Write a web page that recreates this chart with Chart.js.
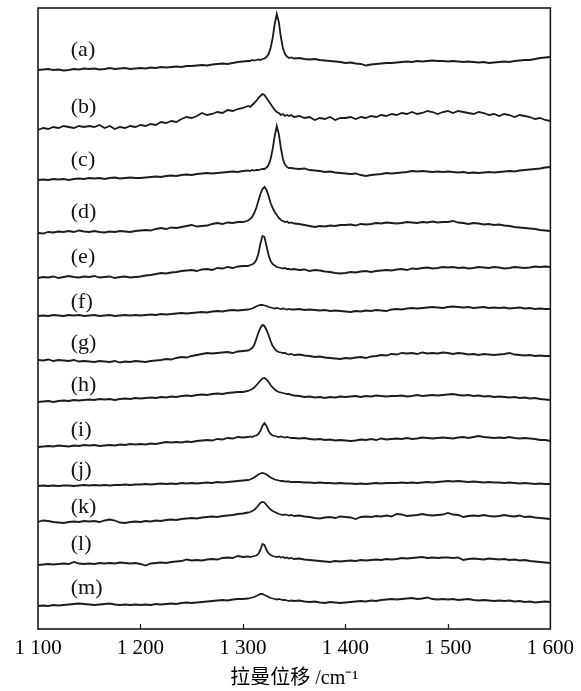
<!DOCTYPE html>
<html><head><meta charset="utf-8">
<style>html,body{margin:0;padding:0;background:#fff}#wrap{width:581px;height:691px}</style>
<script src="https://cdn.jsdelivr.net/npm/chart.js@4"></script>
</head><body><div id="wrap"><canvas id="c" width="581" height="691"></canvas></div>
<script>
// Raman shift grid (cm^-1)
const shifts = [
1100,1105,1110,1115,1120,1125,1130,1135,1140,1145,
1150,1155,1160,1165,1170,1175,1180,1185,1190,1195,
1200,1205,1210,1215,1220,1225,1230,1235,1240,1245,
1250,1255,1260,1265,1270,1275,1280,1285,1290,1295,
1300,1305,
1307,1309,1311,1313,1315,1317,1319,1321,1323,1325,1327,1329,1331,1333,1335,1337,1339,1341,1343,1345,1347,
1350,1355,1360,1365,1370,1375,1380,1385,1390,1395,
1400,1405,1410,1415,1420,1425,1430,1435,1440,1445,
1450,1455,1460,1465,1470,1475,1480,1485,1490,1495,
1500,1505,1510,1515,1520,1525,1530,1535,1540,1545,
1550,1555,1560,1565,1570,1575,1580,1585,1590,1595,
1600];
const sampleNames = ['(a)','(b)','(c)','(d)','(e)','(f)','(g)','(h)','(i)','(j)','(k)','(l)','(m)'];
// vertical stacking offsets (arbitrary intensity units)
const offsets = [559,499,449,396,351,313,269,227,182,143,107,64,23];
const tickLabels = ['1 100','1 200','1 300','1 400','1 500','1 600'];
const tickValues = [1100,1200,1300,1400,1500,1600];

const specA = [0,0.5,1,0,0.5,-0.5,0,1,0.5,1.5, 1,1.5,0.5,1,2,1,1.5,2,1,1.5, 2,1.5,2.5,2,3,2.5,3,3.5,3,4, 4,4.5,5,4.5,5.5,6,6.5,6,7,8, 8.5,9,
 9,10,9.5,10,10.5,10,11,11.5,13,16,22,32,46,56,48,33,22,16,13.5,12,12.5,
 11.5,12,11,10.5,11,10,9.5,9,8.5,8, 7,7.5,6.5,6,4.5,5.5,6,6.5,7,7, 7.5,8,8.5,8,9,8.5,9,9.5,9,9, 8.5,9,8.5,8,8.5,8,7.5,8,7,7.5, 8,8.5,8,9,9.5,10,10,11,12,12.5, 13];
const specB = [0,2,1,3,2,4,3,2,4,3, 4,3,5,2,4,1,3,2,4,3, 5,4,6,5,8,7,9,8,11,13, 12,14,17,15,16,18,17,20,19,21, 22,24,
 23,25,27,29,32,34,36,35,32,29,26,23,20,18,17,15,16,14,15,14,15,
 13,14,12,13,10,12,11,13,10,12, 12,13,11,13,12,14,13,15,14,16, 15,17,16,18,16,17,19,18,16,18, 19,17,19,18,17,16,18,17,15,16, 14,16,15,13,15,14,13,11,12,10, 9];
const specC = [0,0.5,0,1,0.5,1,0,1,1.5,1, 2,1.5,2,1,2,2.5,1.5,2,2.5,2, 2,2.5,3,3.5,3,4,4.5,4,5,5.5, 5,6,6.5,7,6.5,7,7.5,8,8.5,8, 9,9.5,
 9,10,9.5,10,10,10.5,11,11,12.5,15,21,31,44,54,46,32,21,15.5,13,12,12,
 11.5,11,11.5,10,9.5,9,8,8.5,7.5,7, 6.5,6,6.5,5,4,5,5.5,6,7,6.5, 7,7.5,8,9,8.5,9,8.5,8,8.5,8, 8.5,8,7.5,8,7,7.5,7,7.5,8,7.5, 8,8.5,9,8.5,9.5,10,10.5,11,11.5,12.5, 13];
const specD = [0,-0.5,1,0.5,1.5,1,2,1,2.5,1.5, 1,2,1,0.5,1.5,1,2,1.5,1,2, 2.5,3,2.5,4,5,4,5.5,5,6,7, 8,6.5,7,7.5,9,10,9,10.5,10,11, 11,12.5,
 14,16,20,25,32,39,44,46,43,37,30,25,21,18,15,13,12,11,11.5,10,10.5,
 9.5,9,8,7,6,7,6.5,7.5,7,8, 8,8.5,7.5,9,8.5,9,10,9.5,10.5,10, 9.5,10,11,10.5,10,11,10.5,11.5,10.5,11, 11,12,10.5,10,9,10,9.5,8.5,9,8, 8.5,7.5,7,6,5.5,5,4.5,4,3,2.5, 2];
const specE = [0,1,0.5,1.5,0,1,2,1,0.5,1.5, 1,2,0.5,1,1.5,0,1,1.5,0.5,1, 1.5,2.5,3,4,5,4.5,5.5,6,7,7.5, 8,7,8.5,9,8,10,9.5,11,10,11.5, 12,12,
 13,13.5,15,18,24,34,42,41,32,23,17,14,12.5,11,10.5,10,9.5,10,9,9,8.5,
 9,8,8.5,7,8,7.5,6.5,6,5,4.5, 5,6,5.5,6.5,7,6,7,7.5,8,7.5, 8.5,9,8,9.5,9,10,10.5,9.5,10,11, 10.5,11,10,10.5,9.5,10,11,10.5,10,11, 10.5,9.5,10,11,10.5,10,10.5,11.5,11,11.5, 11];
const specF = [0,0.5,0,1,0.5,0,1,0.5,1,0, 0.5,1,0,0.5,1,0,0.5,1,0.5,1, 0.5,1,1.5,1,2,1.5,2,2.5,3,2.5, 3,3.5,4,3.5,4.5,5,4.5,5.5,6,5.5, 6,6.5,
 7,7.5,8.5,9.5,10.5,11,11,10.5,10,9,8.5,8,7.5,8,7.5,7,7.5,7,6.5,7,6.5,
 6.5,7,6,6.5,6,5.5,6,5,5.5,5, 4.5,4,5,4.5,5.5,5,6,5.5,5,6.5, 7,6.5,7.5,8,7.5,8,8.5,9,8.5,8, 9,9.5,9,8.5,9,8,8.5,9,8,8.5, 8,8.5,7.5,8,8.5,7.5,8,7,7.5,7, 7];
const specG = [0,-0.5,0.5,-1,0,-0.5,-1,0,-1.5,-1, -1.5,-2,-1,-1.5,-2,-1,-2.5,-1.5,-2,-1, -1.5,-2,-1,-0.5,0,1,0.5,2,3,2.5, 4,5,6,7,6.5,7,7.5,8,7,8.5, 9,9.5,
 10.5,12,15,21,27,32,35,34,30,25,19,14,11,9,8,7.5,7,7,6,5.5,6,
 5,5.5,4.5,4,3,3.5,2.5,2,1.5,1, 2,1.5,2.5,3,2,3.5,4,5,4.5,6, 5.5,7,6.5,7,6,7.5,6.5,7,6.5,7.5, 7,6,7,6.5,5.5,6,5,6,5.5,5, 5.5,6,7,5.5,5,4.5,5,4,4.5,4, 4];
const specH = [0,0.5,1,0,1,1.5,1,2,1.5,2, 2.5,2,3,2.5,3,2,3,3.5,3,4, 3.5,4,4.5,4,5,4.5,5.5,5,6,6.5, 6,7,7.5,7,8,8.5,8,9,9.5,10, 10,11,
 12,13,14.5,16.5,19,21.5,23.5,24,22.5,20,17,14.5,12.5,11,10,9.5,9,8.5,8,8,7,
 6.5,6,5,5.5,4.5,5,4,5,4.5,5.5, 5,5.5,6,5,6,5.5,6.5,6,5.5,6, 6,6.5,5.5,6,7,6,6.5,7,6.5,7, 7.5,8,7,6.5,7,6,6.5,5.5,6,5, 5.5,5,4.5,5,4,4.5,3.5,4,3,2.5, 2];
const specI = [0,0.5,1,0.5,1.5,1,0.5,1.5,1,2, 1.5,2,1,1.5,2,1.5,2.5,2,3,2.5, 3,2.5,3.5,3,4,5,4.5,5,4.5,5.5, 5,6,6.5,7,6.5,8,7.5,9,8.5,10, 9.5,10,
 10.5,10,11,11.5,13,16,21,24,21,16,13,11.5,11,10.5,10,10.5,10,9.5,10,9.5,9,
 9,8.5,9,8,7.5,8,7,7.5,6.5,7, 6.5,6,6.5,7.5,7,8,7,8.5,7.5,8, 8.5,8,9,8,8.5,9.5,9,8.5,9,9.5, 9,8.5,9.5,10,9,10,11,10,9.5,9, 9.5,9,10,9,8.5,9,8.5,8,7,7, 6];
const specJ = [0,0.5,0,0.5,0,0.5,0.5,0,0.5,1, 0.5,1,0.5,1,0.5,1,1,1.5,1,1.5, 1.5,2,1.5,2,2.5,2,2.5,2,3,2.5, 3,2.5,3,3.5,3,4,3.5,4,4.5,5, 5.5,6,
 6.5,7.5,8.5,10,11.5,12.5,13,12.5,11.5,10,8.5,7.5,6.5,6,5.5,5,5,4.5,4.5,4.5,4,
 4,4,3.5,3.5,3,3.5,3,3,2.5,3, 2.5,2.5,2,2.5,2,2.5,3,2.5,3,3, 3,3.5,3,3.5,3,3.5,4,3.5,4,4.5, 5,4.5,5,4.5,4,4.5,4,3.5,4,3.5, 3.5,3,3.5,3,2.5,3,2.5,2,2.5,2, 2];
const specK = [0,1.5,1,0,-0.5,-1,0,0.5,0,1, 0.5,1,0,1.5,2.5,1.5,-0.5,-1,0,0.5, 0,1,0.5,1.5,1,2,2.5,2,3,3.5, 4,3.5,4.5,5,5.5,5,6,6.5,7,8, 8.5,9.5,
 10,11,12,14,16.5,19,20,19.5,17,14.5,12.5,11,10,9,8,7.5,7,7.5,7,6.5,7,
 6,6.5,5.5,5,4,3.5,4.5,5,4,5.5, 5,4.5,3,5,5.5,5,6,5.5,6.5,5.5, 8,7.5,6,6.5,7,8,7,6.5,7,7.5, 9,7.5,7,5,6,6.5,6,7,6,5.5, 6,7,6,5.5,6.5,5,5.5,4.5,4,3.5, 3];
const specL = [0,0.5,1,0.5,1,1.5,1,3,1.5,1, 1.5,1,2,1.5,2,1.5,2.5,2,1.5,2, 1,-0.5,1.5,2,2.5,2,3,3.5,4,5.5, 4.5,5,4.5,5.5,6,5.5,7,7.5,7,9, 8,8.5,
 8,8.5,9,9.5,11,15,21,20,15,11.5,10,9,8.5,8,8.5,7.5,8,7,7.5,6.5,7,
 6,6.5,5.5,5,4.5,4,3.5,3,4,3.5, 4,4.5,4,5,4.5,5,5.5,5,6,5.5, 6,7,6.5,7,7.5,8,7,7.5,7,7.5, 7.5,7,7.5,5,6,6.5,6,5.5,6.5,6, 5.5,6,5,5.5,4.5,5,4,3.5,3,2.5, 2];
const specM = [0,0.5,0,1,0.5,1,1.5,2,2.5,2, 1.5,1,1.5,2,2.5,1.5,1,1.5,1,1.5, 1,1.5,1,2,1.5,2,2.5,2,3,3.5, 3,3.5,4,4.5,5,5.5,6,5.5,6.5,7, 7,7.5,
 8,8.5,9,10,11,12,12,11,10,9,8,7.5,7,6.5,7,6.5,6,6,5.5,5,5.5,
 5,5.5,4.5,4,4.5,3.5,3,4,3.5,3, 3.5,4,4.5,5,4.5,5.5,5,6,6.5,7, 6.5,7,7.5,8,7,7.5,8.5,7,6.5,7, 6.5,7,6,6.5,7,6,5.5,6,5.5,5, 5.5,5,5.5,4.5,5,4,4.5,3.5,4,4.5, 4];
const spectra = [specA,specB,specC,specD,specE,specF,specG,specH,specI,specJ,specK,specL,specM];

const serif = "'Liberation Serif','Noto Sans CJK SC',serif";

const framePlugin = {
  id: 'frame',
  afterDatasetsDraw(chart, args, opts) {
    const {ctx, chartArea: a, scales: {x, y}} = chart;
    ctx.save();
    ctx.strokeStyle = '#222';
    ctx.lineWidth = 1.3;
    tickValues.forEach(v => {
      if (v === x.min || v === x.max) return;
      const px = Math.round(x.getPixelForValue(v)) + 0.5;
      ctx.beginPath(); ctx.moveTo(px, a.bottom); ctx.lineTo(px, a.bottom - 5); ctx.stroke();
    });
    ctx.lineWidth = 1.6;
    ctx.strokeStyle = '#1a1a1a';
    ctx.strokeRect(a.left, a.top, a.right - a.left, a.bottom - a.top);
    ctx.fillStyle = '#111';
    ctx.font = '22px ' + serif;
    ctx.textAlign = 'left';
    ctx.textBaseline = 'middle';
    const lx = x.getPixelForValue(opts.labelAt);
    sampleNames.forEach((n, i) => {
      ctx.fillText(n, lx, y.getPixelForValue(offsets[i] + opts.lift[i]));
    });
    ctx.restore();
  }
};

new Chart(document.getElementById('c'), {
  type: 'line',
  data: {
    datasets: spectra.map((s, i) => ({
      label: sampleNames[i],
      data: s.map((v, j) => ({x: shifts[j], y: offsets[i] + v})),
      borderColor: '#1c1c1c',
      borderWidth: 1.8,
      pointRadius: 0,
      fill: false,
      tension: 0
    }))
  },
  options: {
    responsive: false,
    animation: false,
    devicePixelRatio: 1,
    layout: {padding: {left: 38, right: 29, top: 8, bottom: 0}},
    scales: {
      x: {
        type: 'linear', min: 1100, max: 1600,
        grid: {display: false, drawTicks: false},
        border: {display: false},
        afterBuildTicks: s => { s.ticks = tickValues.map(v => ({value: v})); },
        afterFit: s => { s.height = 62; },
        ticks: {
          padding: 7, color: '#000', maxRotation: 0, autoSkip: false,
          font: {family: serif, size: 21},
          callback: v => tickLabels[tickValues.indexOf(v)]
        },
        title: {
          display: true, text: '拉曼位移 /cm⁻¹', color: '#000',
          font: {family: serif, size: 20},
          padding: {top: 4, bottom: 0}
        }
      },
      y: {type: 'linear', display: false, min: 0, max: 621}
    },
    plugins: {
      legend: {display: false},
      tooltip: {enabled: false},
      frame: {labelAt: 1132, lift: [20,23,20,21,21,14,17,17,17,16,15,21,18]}
    }
  },
  plugins: [framePlugin]
});
</script>
</body></html>
